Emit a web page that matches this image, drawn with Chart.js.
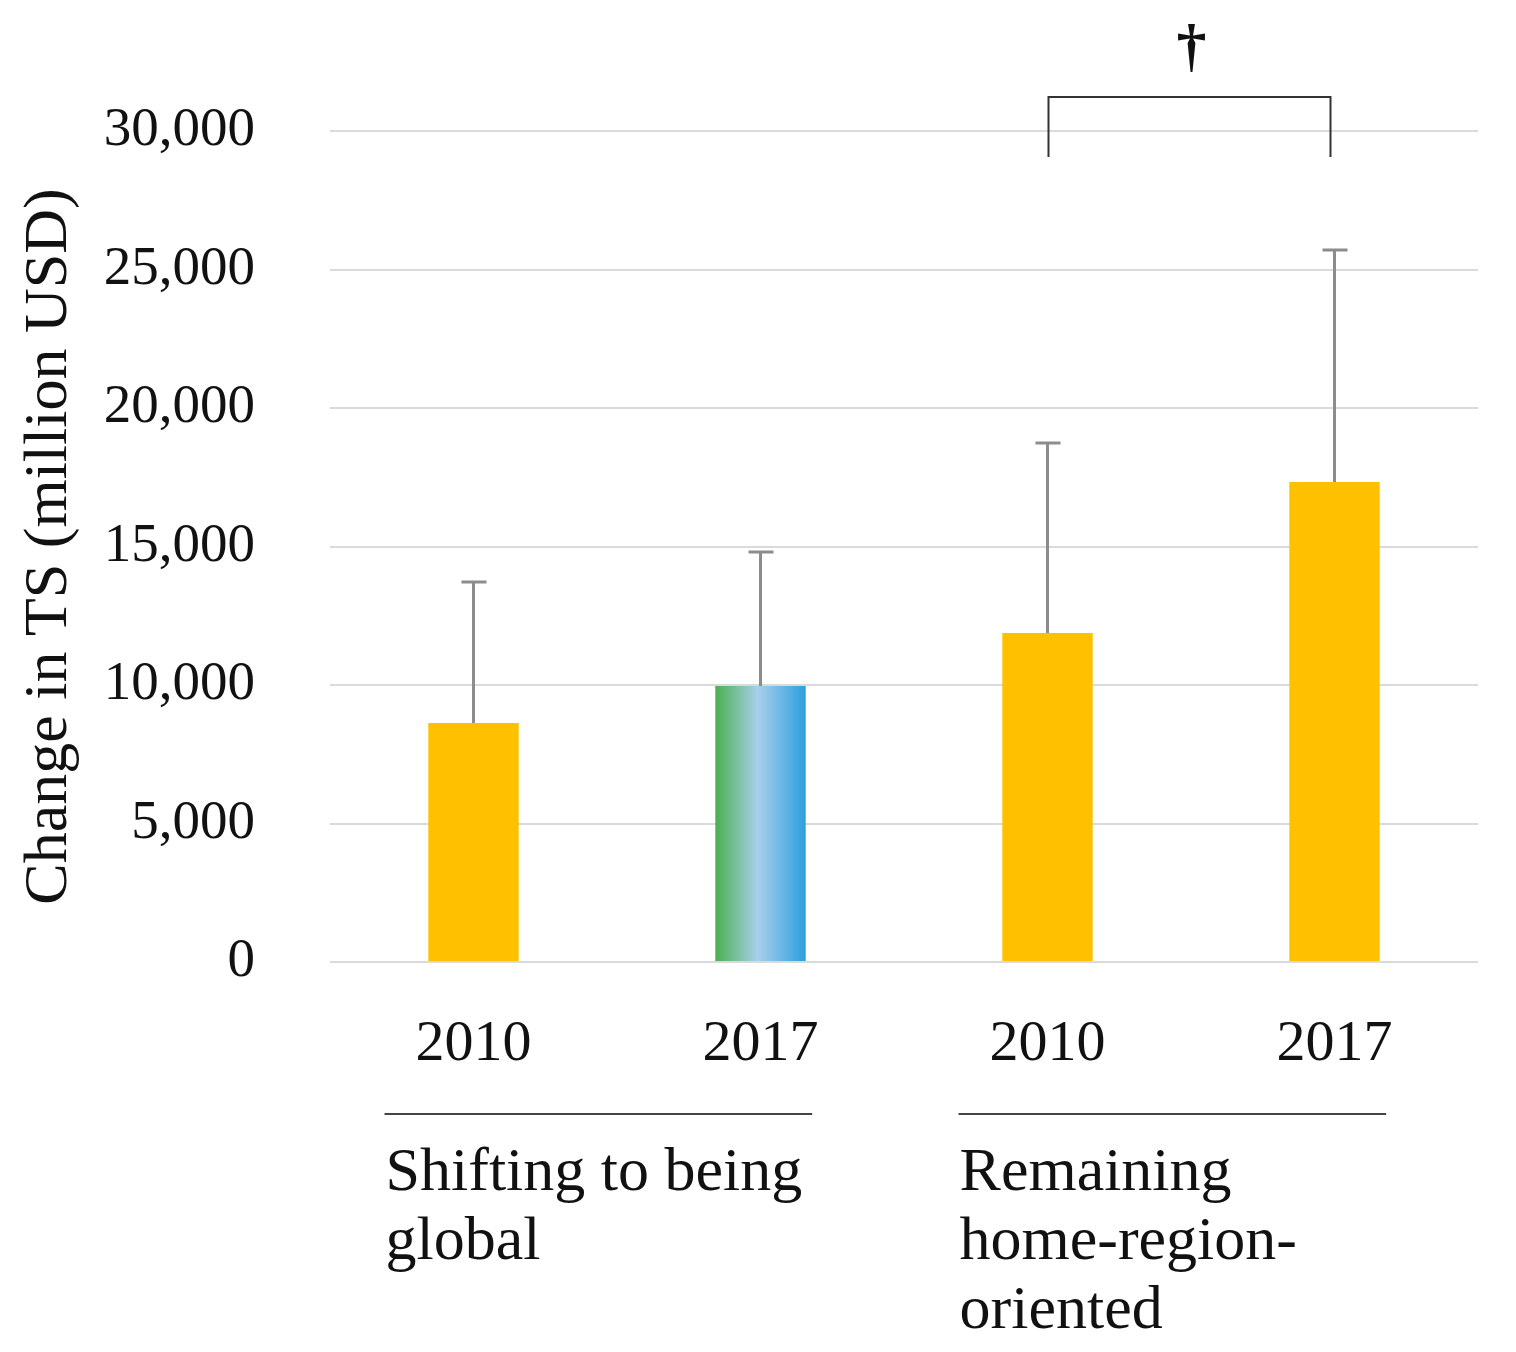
<!DOCTYPE html>
<html>
<head>
<meta charset="utf-8">
<script src="https://cdn.jsdelivr.net/npm/chart.js@4.4.0/dist/chart.umd.min.js"></script>
<style>
  body { margin: 0; background: #fff; }
  canvas { display: block; }
</style>
</head>
<body>
<canvas id="myChart" width="1516" height="1352"></canvas>
<script>
const ctx = document.getElementById('myChart').getContext('2d');

// data
const labels = ['2010', '2017', '2010', '2017'];
const means = [8630, 9960, 11880, 17330];
const errUpper = [13720, 14800, 18740, 25700];
const groupNames = [['Shifting to being', 'global'], ['Remaining', 'home-region-', 'oriented']];
const groupSpans = [[0, 1], [2, 3]];
const yTicks = [0, 5000, 10000, 15000, 20000, 25000, 30000];

// significance bracket between the two "Remaining" bars
const bracketPair = [2, 3];
const bracketTop = 31230;
const bracketFoot = 29060;
const bracketMark = '†';

const serif = "'Liberation Serif', 'Times New Roman', serif";

function barFill(context) {
	const chart = context.chart;
	if (context.dataIndex !== 1 || !chart.chartArea) return '#FFC000';
	const x = chart.scales.x;
	const cx = x.getPixelForValue(1);
	const half = x.width / labels.length * 0.315 / 2;
	let g = chart.ctx.createLinearGradient(cx - half, 0, cx + half, 0);
	g.addColorStop(0, '#4BAF4F');
	g.addColorStop(0.47, '#A8CFEC');
	g.addColorStop(1, '#2C9FDC');
	return g;
}

const extras = {
	id: 'extras',
	afterDatasetsDraw(chart) {
		const c = chart.ctx;
		const x = chart.scales.x;
		const y = chart.scales.y;
		const area = chart.chartArea;
		const catW = x.width / labels.length;
		c.save();

		// error bars (upper only)
		c.strokeStyle = '#8C8C8C';
		c.lineWidth = 3;
		errUpper.forEach((v, i) => {
			const px = x.getPixelForValue(i);
			c.beginPath();
			c.moveTo(px, y.getPixelForValue(means[i]));
			c.lineTo(px, y.getPixelForValue(v));
			c.moveTo(px - 12, y.getPixelForValue(v));
			c.lineTo(px + 13, y.getPixelForValue(v));
			c.stroke();
		});

		// bracket + dagger
		const bx1 = x.getPixelForValue(bracketPair[0]) + 1;
		const bx2 = x.getPixelForValue(bracketPair[1]) - 4;
		c.strokeStyle = '#333';
		c.lineWidth = 2;
		c.beginPath();
		c.moveTo(bx1, y.getPixelForValue(bracketFoot));
		c.lineTo(bx1, y.getPixelForValue(bracketTop));
		c.lineTo(bx2, y.getPixelForValue(bracketTop));
		c.lineTo(bx2, y.getPixelForValue(bracketTop));
		c.lineTo(bx2, y.getPixelForValue(bracketFoot));
		c.stroke();
		c.fillStyle = '#111';
		c.font = 'bold 60px ' + serif;
		c.textAlign = 'center';
		c.textBaseline = 'alphabetic';
		c.fillText(bracketMark, (bx1 + bx2) / 2 + 2, y.getPixelForValue(bracketTop) - 32);

		// group underline and group names
		groupSpans.forEach((span, gi) => {
			const gx1 = x.getPixelForValue(span[0]) - catW * 0.31;
			const gx2 = x.getPixelForValue(span[1]) + catW * 0.18;
			const ly = area.bottom + 152;
			c.strokeStyle = '#444';
			c.lineWidth = 2;
			c.beginPath();
			c.moveTo(gx1, ly);
			c.lineTo(gx2, ly);
			c.stroke();
			c.fillStyle = '#111';
			c.font = '62px ' + serif;
			c.textAlign = 'left';
			groupNames[gi].forEach((line, li) => {
				c.fillText(line, gx1 + 1, area.bottom + 228 + li * 69);
			});
		});
		c.restore();
	}
};

const data = {
	labels,
	datasets: [{
		data: means,
		backgroundColor: barFill,
		borderWidth: 0,
		barPercentage: 0.315,
		categoryPercentage: 1
	}]
};

const config = {
	type: 'bar',
	data: data,
	plugins: [extras],
	options: {
		responsive: false,
		animation: false,
		events: [],
		layout: {
			padding: { left: 13, right: 38, top: 131, bottom: 272 }
		},
		plugins: {
			legend: { display: false },
			tooltip: { enabled: false }
		},
		scales: {
			y: {
				min: 0,
				max: 30000,
				afterBuildTicks: (axis) => { axis.ticks = yTicks.map(v => ({ value: v })); },
				afterFit: (axis) => { axis.width = 317; },
				border: { display: false },
				grid: { color: '#DADADA', lineWidth: 2, drawTicks: false },
				ticks: {
					padding: 75,
					color: '#111',
					font: { family: serif, size: 55 },
					callback: (v) => v.toLocaleString('en-US')
				},
				title: {
					display: true,
					text: 'Change in TS (million USD)',
					color: '#111',
					font: { family: serif, size: 62 },
					padding: { top: 0, bottom: 14 }
				}
			},
			x: {
				afterFit: (axis) => { axis.height = 118; },
				border: { display: false },
				grid: { display: false, drawTicks: false },
				ticks: {
					padding: 48,
					color: '#111',
					font: { family: serif, size: 58 }
				}
			}
		}
	}
};

const myChart = new Chart(ctx, config);
</script>
</body>
</html>
